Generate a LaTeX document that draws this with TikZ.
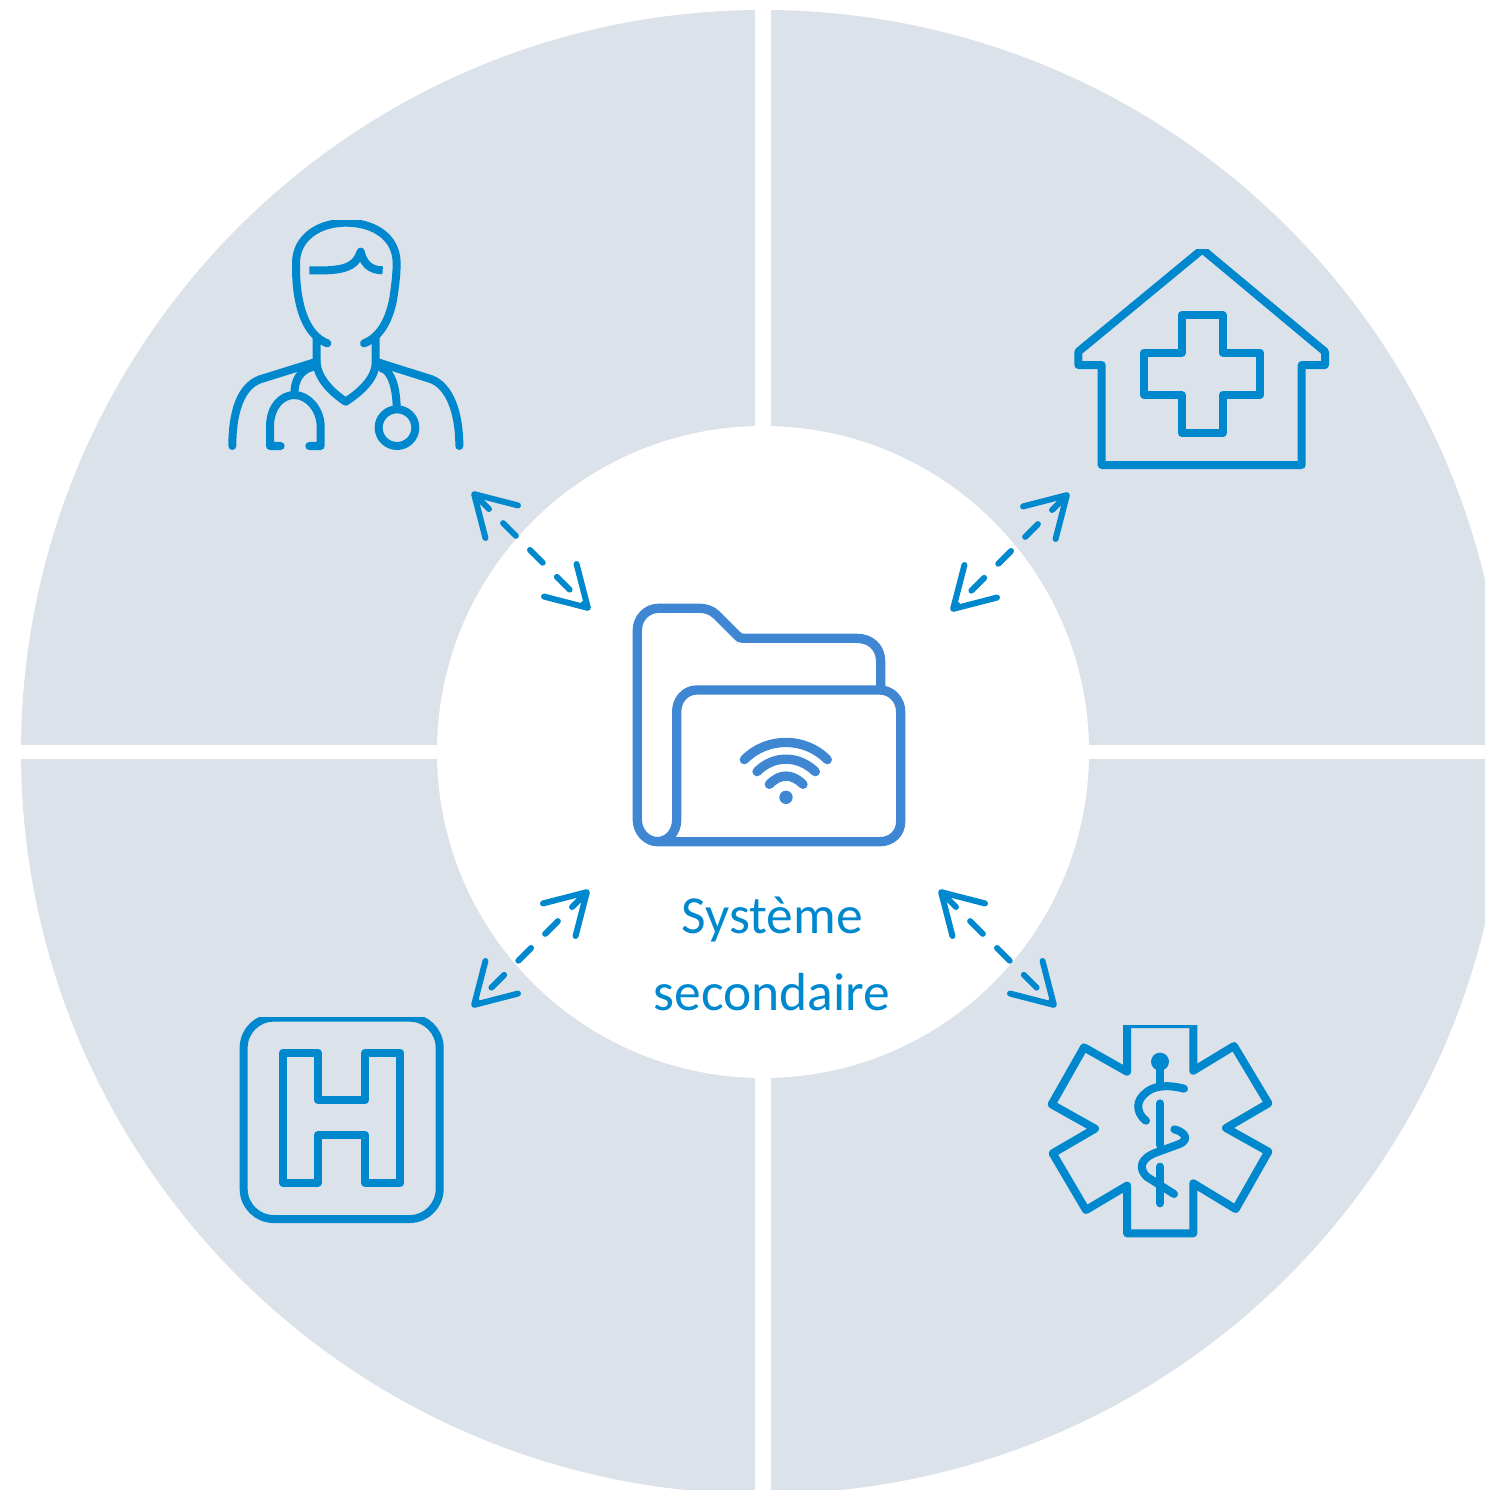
\documentclass[tikz,border=0pt]{standalone}
\usepackage{fontspec}
\setmainfont{Carlito}
\usetikzlibrary{arrows.meta}
\definecolor{sector}{HTML}{DCE2EA}
\definecolor{icon}{HTML}{0088CE}
\definecolor{foldercol}{HTML}{3F87D2}
\tikzset{
  iconline/.style={draw=icon,line width=8pt,line join=round,line cap=round},
  hubline/.style={draw=foldercol,line width=9.3pt,line join=round,line cap=round},
  linkarrow/.style={draw=icon,line width=6pt,line cap=round,dash pattern=on 18pt off 20pt,
    {Straight Barb[length=39pt,width=46pt,round,line width=6pt]}-{Straight Barb[length=39pt,width=46pt,round,line width=6pt]}},
  zoomframe/.style={x=0.33333pt,y=-0.33333pt}
}
\begin{document}
\begin{tikzpicture}[x=1pt,y=-1pt]
\useasboundingbox (0,0) rectangle (1484,1490);
\fill[sector] (763,752) circle[radius=742];
\fill[white] (755,0) rectangle (771,1500);
\fill[white] (0,745) rectangle (1510,759);
\fill[white] (763,752) circle[radius=326];
% doctor
\begin{scope}[xshift=210pt,yshift=-200pt,zoomframe]
  \clip (0,60) rectangle (840,810);
  \draw[iconline] (352,430) .. controls (300,410) and (275,350) .. (265,290)
    .. controls (258,250) and (258,215) .. (258,190)
    .. controls (258,110) and (330,68) .. (408,68)
    .. controls (490,68) and (560,110) .. (560,190)
    .. controls (560,225) and (555,260) .. (550,295)
    .. controls (540,350) and (515,410) .. (462,430);
  \draw[iconline,line cap=butt] (298,211) -- (350,211) .. controls (420,208) and (440,190) .. (452,155)
    .. controls (460,190) and (480,211) .. (518,211);
  \draw[iconline] (320,415) -- (320,490) .. controls (325,540) and (370,580) .. (407,605)
    .. controls (445,580) and (495,540) .. (497,490) -- (497,415);
  \draw[iconline] (67,738) .. controls (67,640) and (90,560) .. (150,538) -- (320,485);
  \draw[iconline] (497,485) -- (665,538) .. controls (720,560) and (748,640) .. (748,738);
  \draw[iconline] (310,500) .. controls (270,510) and (253,540) .. (253,585);
  \draw[iconline] (212,738) -- (180,738) -- (180,680) .. controls (180,620) and (215,585) .. (253,585)
    .. controls (295,585) and (332,630) .. (332,680) -- (332,738) -- (298,738);
  \draw[iconline] (515,505) .. controls (545,510) and (560,570) .. (560,625);
  \draw[iconline] (561,683) circle[radius=55];
\end{scope}
% clinic
\begin{scope}[xshift=1060pt,yshift=-240pt,zoomframe]
  \clip (0,27) rectangle (840,720);
  \draw[iconline] (55,375) -- (55,335) -- (427,28) -- (795,335) -- (795,375) -- (725,375) -- (725,675)
    -- (125,675) -- (125,375) -- cycle;
  \draw[iconline] (365,225) -- (488,225) -- (488,338) -- (600,338) -- (600,465) -- (488,465) -- (488,580)
    -- (365,580) -- (365,465) -- (252,465) -- (252,338) -- (365,338) -- cycle;
\end{scope}
% star of life
\begin{scope}[xshift=1030pt,yshift=-1010pt,zoomframe]
  \clip (0,45) rectangle (780,720);
  \draw[iconline] (291,42) -- (291,185) -- (162,112) -- (65,283) -- (195,356) -- (68,430) -- (168,600)
    -- (291,527) -- (291,670) -- (490,670) -- (490,520) -- (617,597) -- (715,425) -- (588,354)
    -- (715,280) -- (612,108) -- (490,182) -- (490,42) -- cycle;
  \fill[icon] (390,155) circle[radius=27];
  \draw[iconline] (390,155) -- (390,225);
  \draw[iconline] (390,280) -- (390,405);
  \draw[iconline] (390,470) -- (390,580);
  \draw[iconline] (462,236) .. controls (420,225) and (370,222) .. (340,255)
    .. controls (310,285) and (330,320) .. (348,332);
  \draw[iconline] (433,358) .. controls (475,370) and (475,395) .. (440,405) -- (380,427)
    .. controls (330,445) and (325,475) .. (350,500) -- (432,552);
\end{scope}
% hospital
\begin{scope}[xshift=230pt,yshift=-1005pt,zoomframe]
  \clip (0,36) rectangle (675,675);
  \draw[iconline,rounded corners=30pt] (41,38) rectangle (629,642);
  \draw[iconline] (159,143) -- (263,143) -- (263,285) -- (406,285) -- (406,143) -- (511,143) -- (511,534)
    -- (406,534) -- (406,390) -- (263,390) -- (263,534) -- (159,534) -- cycle;
\end{scope}
% folder
\begin{scope}[xshift=620pt,yshift=-590pt,zoomframe]
  \draw[hubline] (782,295) -- (782,215) .. controls (782,170) and (750,145) .. (710,145) -- (370,145)
    .. controls (360,145) and (358,143) .. (350,135) -- (290,75) .. controls (275,60) and (255,55) .. (240,55)
    -- (115,55) .. controls (80,55) and (52,85) .. (52,120) -- (52,690)
    .. controls (52,725) and (80,755) .. (112,755) .. controls (145,755) and (170,725) .. (170,690)
    -- (170,365) .. controls (170,330) and (195,300) .. (230,300) -- (780,300)
    .. controls (815,300) and (842,330) .. (842,365) -- (842,695) .. controls (842,730) and (815,755) .. (780,755)
    -- (112,755);
  \draw[hubline] (373,509) .. controls (440,440) and (555,440) .. (622,509);
  \draw[hubline] (411,545) .. controls (460,495) and (535,495) .. (586,545);
  \draw[hubline] (448,583) .. controls (480,550) and (516,550) .. (549,583);
  \fill[foldercol] (498,622) circle[radius=20];
\end{scope}
% label
\node[text=icon,font=\fontsize{53.5pt}{76.5pt}\selectfont,align=center,inner sep=0pt] (hub) at (772,954) {Système\\secondaire};
% links
\coordinate (a1) at (472,492); \coordinate (b1) at (590,610);
\coordinate (a2) at (1069,493); \coordinate (b2) at (951,611);
\coordinate (a3) at (589,890); \coordinate (b3) at (472,1007);
\coordinate (a4) at (939,890); \coordinate (b4) at (1056,1007);
\draw[linkarrow] (a1) -- (b1);
\draw[linkarrow] (a2) -- (b2);
\draw[linkarrow] (a3) -- (b3);
\draw[linkarrow] (a4) -- (b4);
\end{tikzpicture}
\end{document}
